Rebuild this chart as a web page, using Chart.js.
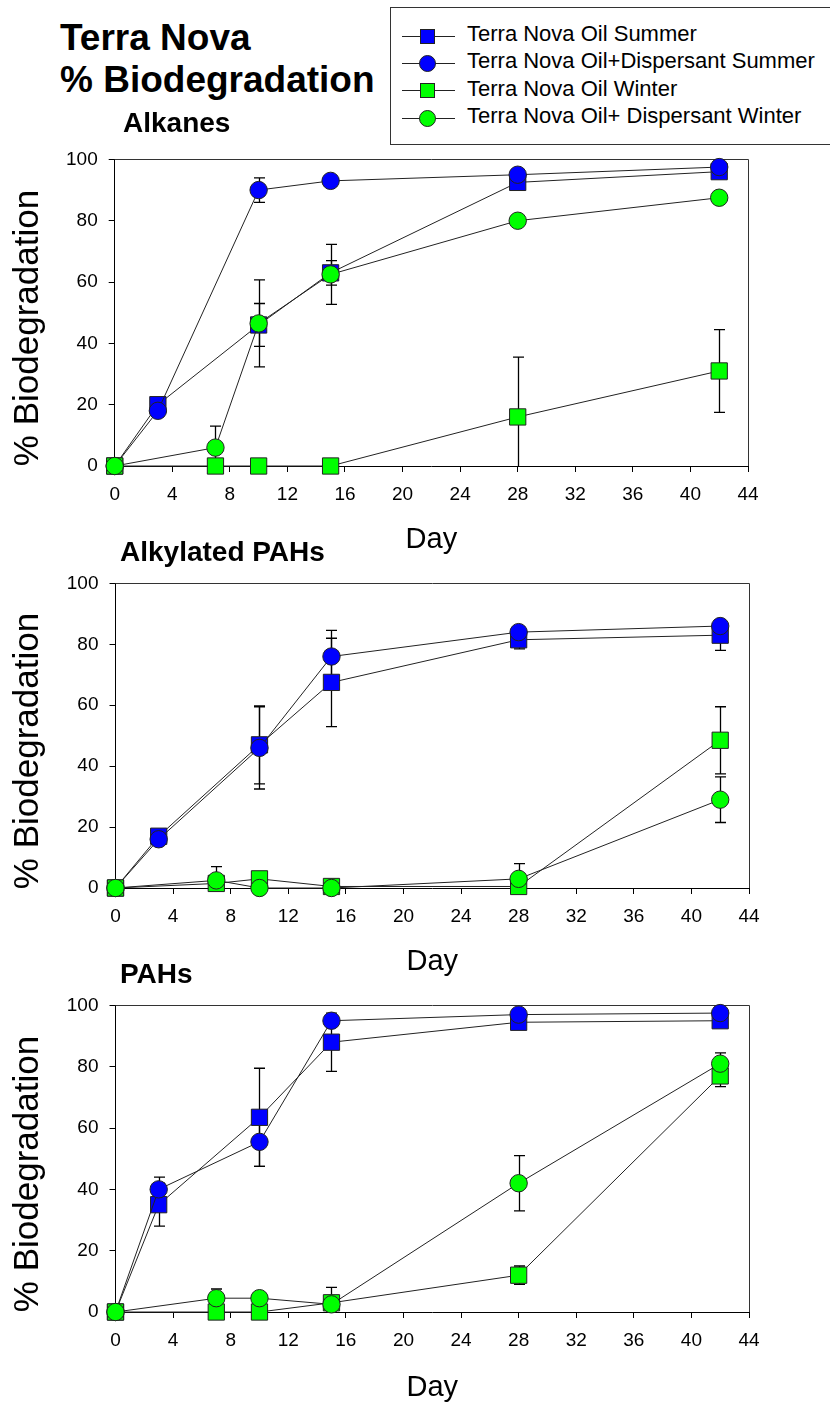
<!DOCTYPE html>
<html><head><meta charset="utf-8">
<script src="https://cdn.jsdelivr.net/npm/chart.js@4.4.0/dist/chart.umd.min.js"></script>
<style>
body{margin:0;background:#fff;}
#page{position:relative;width:830px;height:1403px;overflow:hidden;font-family:'Liberation Sans',Arial,sans-serif;color:#000;background:#fff}
.abs{position:absolute;white-space:nowrap}
canvas{position:absolute;left:0}
.ytitle{position:absolute;white-space:nowrap;font-size:35px;line-height:35px;transform:translate(-50%,-50%) rotate(-90deg)}
</style></head><body><div id="page">
<canvas id="c1"></canvas><canvas id="c2"></canvas><canvas id="c3"></canvas>
<div class="abs" style="left:60px;top:18.7px;font-weight:bold;font-size:37px;line-height:37px">Terra Nova</div>
<div class="abs" style="left:60px;top:60.7px;font-weight:bold;font-size:37px;line-height:37px">% Biodegradation</div>
<div id="legend" class="abs" style="left:390px;top:7px;width:460px;height:138px;border:1px solid #333;box-sizing:border-box;background:#fff"></div>
</div>
<script>
// ---- data ----
const summerDays = [0, 3, 10, 15, 28, 42];
const winterDays = [0, 7, 10, 15, 28, 42];
const seriesNames = ['Terra Nova Oil Summer','Terra Nova Oil+Dispersant Summer','Terra Nova Oil Winter','Terra Nova Oil+ Dispersant Winter'];
const panelTitles = ['Alkanes','Alkylated PAHs','PAHs'];
const xTicks = [0,4,8,12,16,20,24,28,32,36,40,44];
const yTicks = [0,20,40,60,80,100];

// Alkanes
const alkOilSummer = [0, 20, 46, 63, 92.5, 96];
const alkOilSummerErr = [0, 0, 7, 4, 0, 0];
const alkDispSummer = [0, 18, 90, 93, 95, 97.5];
const alkDispSummerErr = [0, 0, 4, 0, 0, 0];
const alkOilWinter = [0, 0, 0, 0, 16, 31];
const alkOilWinterErr = [0, 0, 0, 0, 19.5, 13.5];
const alkDispWinter = [0, 6, 46.5, 62.5, 80, 87.5];
const alkDispWinterErr = [0, 7, 14.2, 9.8, 0, 0];

// Alkylated PAHs
const apOilSummer = [0, 17, 47, 67.5, 81.5, 83];
const apOilSummerErr = [0, 0, 12.8, 14.5, 3, 5];
const apDispSummer = [0, 16, 46, 76, 84, 86];
const apDispSummerErr = [0, 0, 13.5, 8.6, 0, 0];
const apOilWinter = [0, 1.5, 3, 0.5, 0.5, 48.5];
const apOilWinterErr = [0, 0, 0, 0, 0, 11];
const apDispWinter = [0, 2.5, 0, 0, 3, 29];
const apDispWinterErr = [0, 4.5, 0, 0, 5, 7.5];

// PAHs
const pahOilSummer = [0, 35, 63.5, 88, 94.5, 95];
const pahOilSummerErr = [0, 7, 16, 9.5, 0, 0];
const pahDispSummer = [0, 40, 55.5, 95, 97, 97.5];
const pahDispSummerErr = [0, 4, 8, 0, 0, 0];
const pahOilWinter = [0, 0, 0, 3, 12, 77];
const pahOilWinterErr = [0, 0, 0, 5, 3, 3.5];
const pahDispWinter = [0, 4.5, 4.5, 2.5, 42, 81];
const pahDispWinterErr = [0, 3, 0, 0, 9, 3.5];

// ---- styles ----
const FONT = "'Liberation Sans', Arial, sans-serif";
const BLUE = '#0000ff', GREEN = '#00ff00', LINE = '#222';
const styles = [
  {fill: BLUE, shape: 'rect', r: 11.5, days: summerDays, order: 4},
  {fill: BLUE, shape: 'circle', r: 8.7, days: summerDays, order: 3},
  {fill: GREEN, shape: 'rect', r: 11.5, days: winterDays, order: 2},
  {fill: GREEN, shape: 'circle', r: 8.7, days: winterDays, order: 1}
];

const errorBars = {
  id: 'errorBars',
  beforeDatasetsDraw(chart) {
    const {ctx, chartArea: a, scales: {x, y}} = chart;
    ctx.save();
    ctx.beginPath();
    ctx.rect(a.left, a.top - 1, a.right - a.left, a.bottom - a.top + 1);
    ctx.clip();
    ctx.strokeStyle = '#000';
    ctx.lineWidth = 1.3;
    chart.data.datasets.forEach(ds => {
      (ds.errors || []).forEach((e, i) => {
        if (!e) return;
        const p = ds.data[i];
        const px = Math.round(x.getPixelForValue(p.x)) + 0.5;
        const y1 = y.getPixelForValue(p.y + e), y2 = y.getPixelForValue(p.y - e);
        ctx.beginPath();
        ctx.moveTo(px, y1); ctx.lineTo(px, y2);
        ctx.moveTo(px - 5.5, y1); ctx.lineTo(px + 5.5, y1);
        ctx.moveTo(px - 5.5, y2); ctx.lineTo(px + 5.5, y2);
        ctx.stroke();
      });
    });
    ctx.restore();
  }
};
const frame = {
  id: 'frame',
  beforeDatasetsDraw(chart) {
    const {ctx, chartArea: a} = chart;
    ctx.save();
    ctx.strokeStyle = '#333';
    ctx.lineWidth = 1;
    ctx.beginPath();
    ctx.moveTo(a.left, Math.round(a.top) + 0.5);
    ctx.lineTo(Math.round(a.right) + 0.5, Math.round(a.top) + 0.5);
    ctx.lineTo(Math.round(a.right) + 0.5, a.bottom);
    ctx.stroke();
    ctx.restore();
  }
};

function makePanel(canvasId, plotTop, plotBottom, plotLeft, plotRight, dayOffset, values, errors) {
  const canvasTop = plotTop - 12;
  const axisH = 100;
  const H = plotBottom - canvasTop + axisH;
  const cv = document.getElementById(canvasId);
  cv.width = 830; cv.height = H;
  cv.style.top = canvasTop + 'px';
  const datasets = values.map((vals, k) => {
    const s = styles[k];
    return {
      label: seriesNames[k],
      data: s.days.map((d, i) => ({x: d, y: vals[i]})),
      errors: errors[k],
      borderColor: LINE, borderWidth: 1,
      pointStyle: s.shape, pointRadius: s.r, pointHoverRadius: s.r,
      pointBackgroundColor: s.fill, pointBorderColor: '#222', pointBorderWidth: 1,
      clip: false, order: s.order, tension: 0, fill: false
    };
  });
  return new Chart(cv, {
    type: 'line',
    data: {datasets},
    plugins: [frame, errorBars],
    options: {
      responsive: false, animation: false, events: [],
      layout: {padding: {top: 12, left: 0, right: 830 - plotRight, bottom: 0}},
      plugins: {legend: {display: false}, title: {display: false}, tooltip: {enabled: false}},
      scales: {
        x: {
          type: 'linear', min: 0, max: 44,
          afterBuildTicks: ax => { ax.ticks = xTicks.map(v => ({value: v})); },
          afterFit: ax => { ax.height = axisH; },
          ticks: {color: '#000', font: {family: FONT, size: 19}, padding: 11, maxRotation: 0, autoSkip: false},
          grid: {drawOnChartArea: false, drawTicks: true, tickLength: 6, color: '#000'},
          border: {display: true, color: '#000', width: 1},
          title: {display: true, text: 'Day', color: '#000', font: {family: FONT, size: 29}, padding: {top: 0, bottom: axisH - dayOffset - 17.4}}
        },
        y: {
          type: 'linear', min: 0, max: 100,
          afterBuildTicks: ax => { ax.ticks = yTicks.map(v => ({value: v})); },
          afterFit: ax => { ax.width = plotLeft; },
          ticks: {color: '#000', font: {family: FONT, size: 19}, padding: 11},
          grid: {drawOnChartArea: false, drawTicks: true, tickLength: 6, color: '#000'},
          border: {display: true, color: '#000', width: 1}
        }
      }
    }
  });
}

makePanel('c1', 149, 466, 114.7, 748, 74,
  [alkOilSummer, alkDispSummer, alkOilWinter, alkDispWinter],
  [alkOilSummerErr, alkDispSummerErr, alkOilWinterErr, alkDispWinterErr]);
makePanel('c2', 573, 888, 115.5, 749, 74,
  [apOilSummer, apDispSummer, apOilWinter, apDispWinter],
  [apOilSummerErr, apDispSummerErr, apOilWinterErr, apDispWinterErr]);
makePanel('c3', 995, 1312, 115.5, 749, 76,
  [pahOilSummer, pahDispSummer, pahOilWinter, pahDispWinter],
  [pahOilSummerErr, pahDispSummerErr, pahOilWinterErr, pahDispWinterErr]);

// ---- text: panel titles and y-axis titles ----
const page = document.getElementById('page');
const titlePos = [[123, 109.3], [120, 538.3], [120, 960.3]];
panelTitles.forEach((t, i) => {
  const d = document.createElement('div');
  d.className = 'abs';
  d.style.cssText = `left:${titlePos[i][0]}px;top:${titlePos[i][1]}px;font-weight:bold;font-size:28px;line-height:28px`;
  d.textContent = t;
  page.appendChild(d);
});
[327.5, 750.5, 1173.5].forEach(cy => {
  const d = document.createElement('div');
  d.className = 'ytitle';
  d.style.left = '25px'; d.style.top = cy + 'px';
  d.textContent = '% Biodegradation';
  page.appendChild(d);
});

// ---- legend ----
const legend = document.getElementById('legend');
const rowCenters = [36, 63.3, 90.7, 118.3];
seriesNames.forEach((name, k) => {
  const cy = rowCenters[k] - 7 - 1; // relative to legend box (top 7, border 1)
  const s = styles[k];
  const line = document.createElement('div');
  line.className = 'abs';
  line.style.cssText = `left:${402-391}px;top:${cy - 0.5}px;width:53px;height:1px;background:#222`;
  legend.appendChild(line);
  const m = document.createElement('div');
  m.className = 'abs';
  const sz = s.shape === 'rect' ? 15 : 17;
  m.style.cssText = `left:${427.5-391-sz/2}px;top:${cy - sz/2}px;width:${sz}px;height:${sz}px;background:${s.fill};border:1px solid #222;box-sizing:border-box;` + (s.shape === 'circle' ? 'border-radius:50%;' : '');
  legend.appendChild(m);
  const t = document.createElement('div');
  t.className = 'abs';
  t.style.cssText = `left:${467-391}px;top:${cy - 12.9}px;font-size:22px;line-height:22px`;
  t.textContent = name;
  legend.appendChild(t);
});
</script>
</body></html>
